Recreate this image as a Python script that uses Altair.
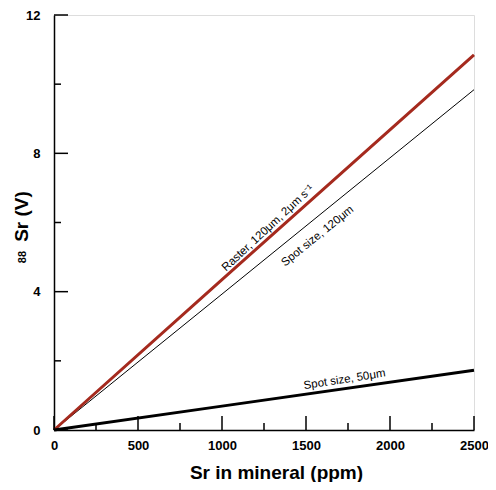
import altair as alt
import pandas as pd

# Data (straight calibration lines)
sr_ppm = [0, 1000, 2500]
raster_120 = [0, 4.35, 10.85]
spot_120 = [0, 3.93, 9.84]
spot_50 = [0, 0.69, 1.73]

x_major = [0, 500, 1000, 1500, 2000, 2500]
x_minor = [250, 750, 1250, 1750, 2250]
y_major = [0, 4, 8, 12]
y_minor = [2, 6, 10]

W, H = 420, 415
FONT = "Liberation Sans"

df = pd.DataFrame({"sr": sr_ppm, "raster": raster_120, "spot120": spot_120, "spot50": spot_50})

xs = alt.Scale(domain=[0, 2500], nice=False, zero=False)
ys = alt.Scale(domain=[0, 12], nice=False, zero=False)

xaxis = alt.Axis(values=x_major, format="d", ticks=False, grid=False, labelFont=FONT,
                 labelFontSize=13, labelFontWeight="bold", labelColor="black", labelPadding=9,
                 domainColor="black", domainWidth=1.5, title="Sr in mineral (ppm)",
                 titleFont=FONT, titleFontSize=19, titleFontWeight="bold", titleColor="black",
                 titleX=222, titleY=48, titleBaseline="alphabetic", titleAlign="center",
                 labelFlush=False)
yaxis = alt.Axis(values=y_major, format="d", ticks=False, grid=False, labelFont=FONT,
                 labelFontSize=13, labelFontWeight="bold", labelColor="black", labelPadding=14,
                 domainColor="black", domainWidth=1.5, title="Sr (V)",
                 titleFont=FONT, titleFontSize=19, titleFontWeight="bold", titleColor="black",
                 titleX=-27, titleY=201, titleAngle=270, titleBaseline="alphabetic",
                 titleAlign="center", labelFlush=False)

base = alt.Chart(df)

thin = base.mark_line(color="black", strokeWidth=1).encode(
    x=alt.X("sr:Q", scale=xs, axis=xaxis), y=alt.Y("spot120:Q", scale=ys, axis=yaxis))
red = base.mark_line(color="#a52a1e", strokeWidth=3).encode(
    x=alt.X("sr:Q", scale=xs), y=alt.Y("raster:Q", scale=ys))
s50 = base.mark_line(color="black", strokeWidth=3).encode(
    x=alt.X("sr:Q", scale=xs), y=alt.Y("spot50:Q", scale=ys))

# inward ticks
xmaj = alt.Chart(pd.DataFrame({"v": x_major})).mark_rule(color="black", strokeWidth=1.5).encode(
    x=alt.X("v:Q", scale=xs), y=alt.value(H), y2=alt.value(H - 14))
xmin = alt.Chart(pd.DataFrame({"v": x_minor})).mark_rule(color="black", strokeWidth=1.5).encode(
    x=alt.X("v:Q", scale=xs), y=alt.value(H), y2=alt.value(H - 7))
ymaj = alt.Chart(pd.DataFrame({"v": y_major})).mark_rule(color="black", strokeWidth=1.5).encode(
    y=alt.Y("v:Q", scale=ys), x=alt.value(0), x2=alt.value(14))
ymin = alt.Chart(pd.DataFrame({"v": y_minor})).mark_rule(color="black", strokeWidth=1.5).encode(
    y=alt.Y("v:Q", scale=ys), x=alt.value(0), x2=alt.value(7))

# superscript mass number of the y title
sup = alt.Chart(pd.DataFrame({"t": ["88"]})).mark_text(
    font=FONT, fontSize=11, fontWeight="bold", color="black", angle=270,
    align="center", baseline="alphabetic"
).encode(x=alt.value(-28), y=alt.value(242), text="t:N")

def label(text, x, y, angle):
    return alt.Chart(pd.DataFrame({"x": [x], "y": [y], "t": [text]})).mark_text(
        font=FONT, fontSize=11.5, color="black", angle=angle, align="center", baseline="middle"
    ).encode(x=alt.X("x:Q", scale=xs), y=alt.Y("y:Q", scale=ys), text="t:N")

lab1 = label("Raster, 120μm, 2μm s⁻¹", 1275, 5.83, 317)
lab2 = label("Spot size, 120μm", 1570, 5.6, 321)
lab3 = label("Spot size, 50μm", 1730, 1.45, 351)

chart = alt.layer(thin, red, s50, xmaj, xmin, ymaj, ymin, sup, lab1, lab2, lab3).properties(
    width=W, height=H,
    autosize=alt.AutoSizeParams(type="none"),
    padding={"left": 46, "top": 7, "right": 14, "bottom": 52},
).configure_view(stroke="#444", strokeWidth=1).configure(background="white")

chart.save("out.html", embed_options={"renderer": "svg", "actions": False})
